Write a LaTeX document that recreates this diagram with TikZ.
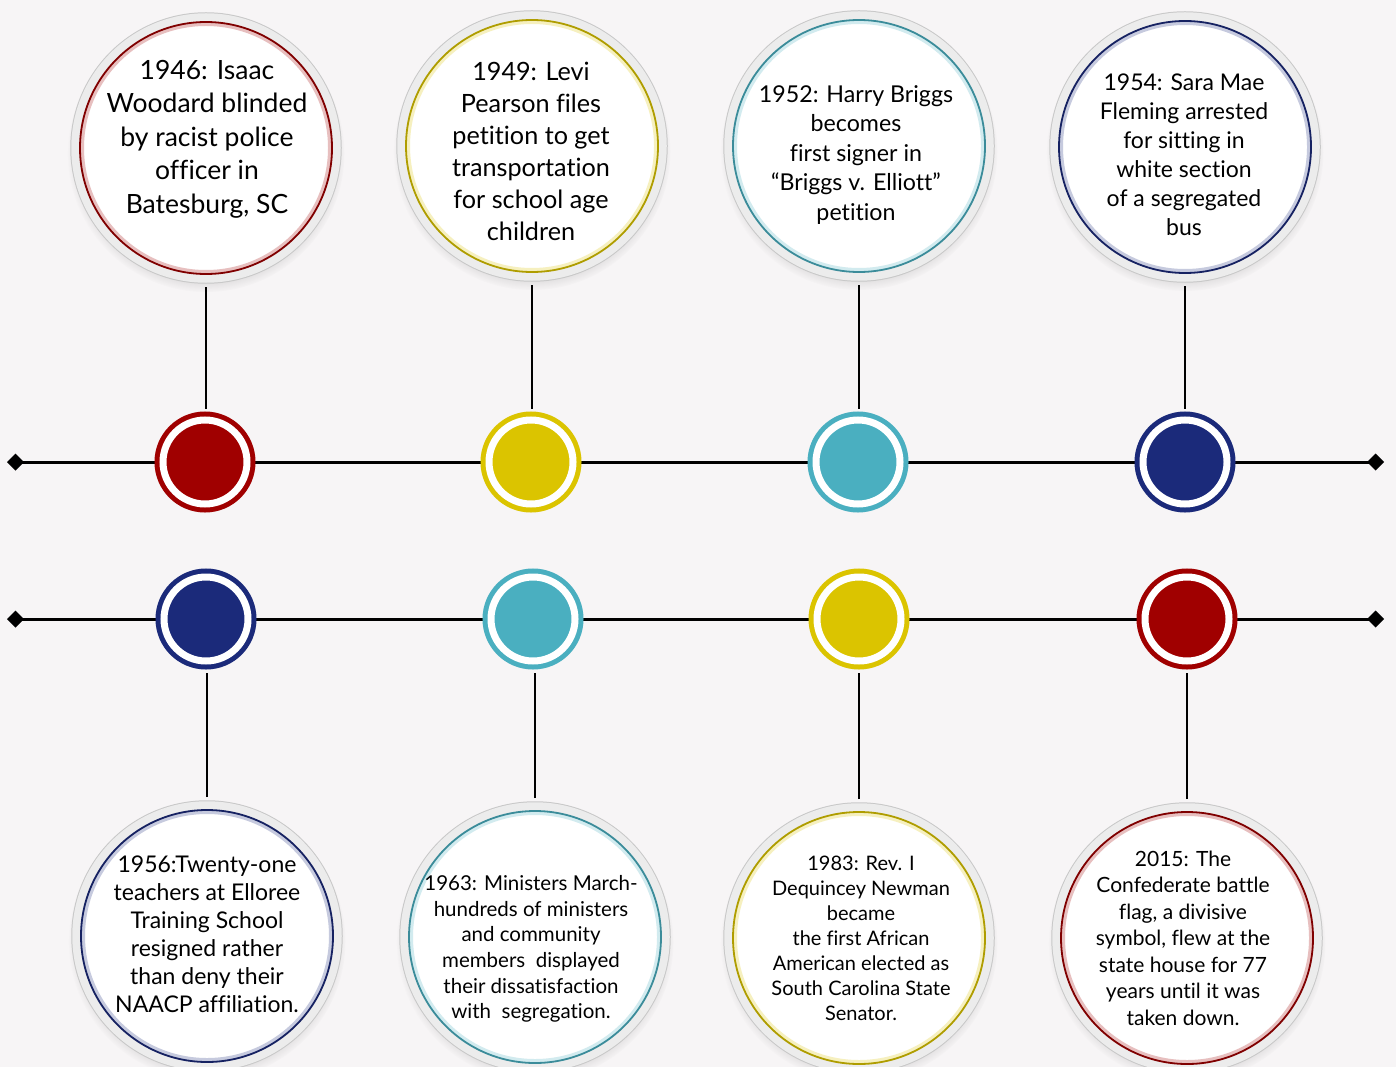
\documentclass[tikz,border=0pt]{standalone}
\usepackage{fontspec}
\setmainfont{Lato}[Ligatures=CommonOff]
\usepackage{tikz}
\usetikzlibrary{arrows.meta, positioning, calc, shadows}
\definecolor{bgpaper}{RGB}{247,245,246}
\definecolor{evred}{RGB}{160,0,0}
\definecolor{evyellow}{RGB}{219,196,0}
\definecolor{evteal}{RGB}{74,175,192}
\definecolor{evnavy}{RGB}{27,42,122}
\definecolor{ringgray}{RGB}{236,236,236}
\definecolor{ringedge}{RGB}{200,200,200}

\begin{document}
\begin{tikzpicture}[x=1pt, y=-1pt,
  bubble/.style={circle, minimum size=252pt, inner sep=0pt, outer sep=0pt, fill=white,
    draw=#1!80!black, line width=1.8pt,
    circular drop shadow={shadow xshift=0pt, shadow yshift=-5pt, shadow scale=1.1, opacity=0.35},
    preaction={draw=ringedge, line width=19.5pt},
    preaction={draw=ringgray, line width=17.5pt},
    path picture={\draw[#1!25, line width=8pt] (path picture bounding box.center) circle (126pt);}},
  marker/.style={circle, minimum size=84pt, inner sep=0pt, outer sep=8.5pt, fill=#1,
    draw=#1, line width=5pt, double=white, double distance=7pt},
  axis/.style={line width=3pt, {Diamond[length=17pt, width=17pt]}-{Diamond[length=17pt, width=17pt]}},
  stem/.style={line width=2.6pt, shorten <=13pt, shorten >=3pt},
  evtext/.style={align=center, inner sep=0pt}
]
  \useasboundingbox (0,0) rectangle (1396,1067);
  \fill[bgpaper] (0,0) rectangle (1396,1067);
  \clip (0,0) rectangle (1396,1067);

  \coordinate (t1w) at (7,462);
  \coordinate (t1e) at (1384,462);
  \coordinate (t2w) at (7,619);
  \coordinate (t2e) at (1384,619);
  \draw[axis] (t1w) -- (t1e);
  \draw[axis] (t2w) -- (t2e);

  \node[marker=evred] (m1) at (205,462) {};
  \node[marker=evyellow] (m2) at (531,462) {};
  \node[marker=evteal] (m3) at (858,462) {};
  \node[marker=evnavy] (m4) at (1185,462) {};
  \node[marker=evnavy] (m5) at (206,619) {};
  \node[marker=evteal] (m6) at (533,619) {};
  \node[marker=evyellow] (m7) at (859,619) {};
  \node[marker=evred] (m8) at (1187,619) {};

  \node[bubble=evred] (e1) at (206,148) {};
  \node[bubble=evyellow] (e2) at (532,146) {};
  \node[bubble=evteal] (e3) at (859,146) {};
  \node[bubble=evnavy] (e4) at (1185,147) {};
  \node[bubble=evnavy] (e5) at (207,936) {};
  \node[bubble=evteal] (e6) at (535,937) {};
  \node[bubble=evyellow] (e7) at (859,938) {};
  \node[bubble=evred] (e8) at (1187,938) {};

  \draw[stem] (e1.south) -- (e1.south |- m1.north);
  \draw[stem] (e2.south) -- (e2.south |- m2.north);
  \draw[stem] (e3.south) -- (e3.south |- m3.north);
  \draw[stem] (e4.south) -- (e4.south |- m4.north);
  \draw[stem] (e5.north) -- (e5.north |- m5.south);
  \draw[stem] (e6.north) -- (e6.north |- m6.south);
  \draw[stem] (e7.north) -- (e7.north |- m7.south);
  \draw[stem] (e8.north) -- (e8.north |- m8.south);

  \node[evtext, font=\fontsize{26.5}{33.5}\selectfont] (x1) at (207,139) {1946: Isaac\\Woodard blinded\\by racist police\\officer in\\Batesburg, SC};
  \node[evtext, font=\fontsize{25.2}{32}\selectfont] (x2) at (531,151) {1949: Levi\\Pearson files\\petition to get\\transportation\\for school age\\children};
  \node[evtext, font=\fontsize{23.2}{29.5}\selectfont] (x3) at (856,155) {1952: Harry Briggs\\becomes\\first signer in\\“Briggs v. Elliott”\\petition};
  \node[evtext, font=\fontsize{23}{29}\selectfont] (x4) at (1184,155) {1954: Sara Mae\\Fleming arrested\\for sitting in\\white section\\of a segregated\\bus};
  \node[evtext, font=\fontsize{23}{28}\selectfont] (x5) at (207,934) {1956:Twenty-one\\teachers at Elloree\\Training School\\resigned rather\\than deny their\\NAACP affiliation.};
  \node[evtext, font=\fontsize{20.5}{25.6}\selectfont] (x6) at (531,949) {1963: Ministers March-\\hundreds of ministers\\and community\\members\ \ displayed\\their dissatisfaction\\with\ \ segregation.};
  \node[evtext, font=\fontsize{20}{25}\selectfont] (x7) at (861,938) {1983: Rev. I\\Dequincey Newman\\became\\the first African\\American elected as\\South Carolina State\\Senator.};
  \node[evtext, font=\fontsize{21}{26.5}\selectfont] (x8) at (1183,938) {2015: The\\Confederate battle\\flag, a divisive\\symbol, flew at the\\state house for 77\\years until it was\\taken down.};
\end{tikzpicture}
\end{document}
